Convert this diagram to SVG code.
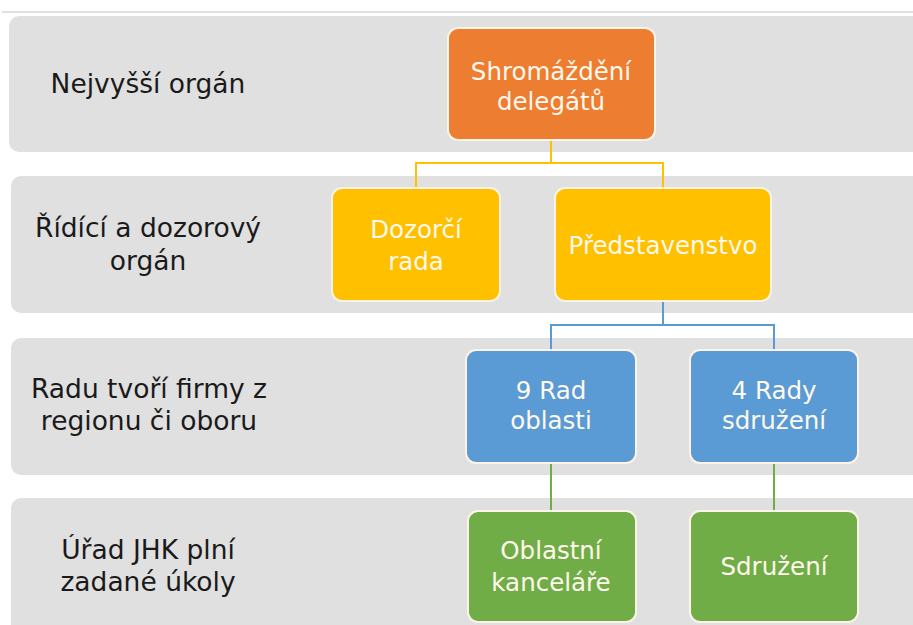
<svg xmlns="http://www.w3.org/2000/svg" width="913" height="625" viewBox="0 0 913 625">
<style>
.band{fill:#e0e0e0}
.lbl{font-family:"DejaVu Sans",Verdana,sans-serif;font-size:26.5px;fill:#1a1a1a;text-anchor:middle}
.nt{font-family:"DejaVu Sans",Verdana,sans-serif;font-size:24.5px;fill:#fff8ec;text-anchor:middle}
.node{stroke:#fdf3e6;stroke-width:2}
.c{fill:none;stroke-width:2}
</style>
<rect width="913" height="625" fill="#ffffff"/>
<line x1="2" y1="12" x2="913" y2="12" stroke="#d0d4da" stroke-width="1.5"/>
<g id="bands">
<rect class="band" x="9" y="16" width="920" height="136" rx="10"/>
<rect class="band" x="11" y="176" width="918" height="137" rx="10"/>
<rect class="band" x="11" y="338" width="918" height="137" rx="10"/>
<rect class="band" x="11" y="498" width="918" height="140" rx="10"/>
</g>
<g id="labels">
<text class="lbl" x="148" y="93">Nejvyšší orgán</text>
<text class="lbl" x="148" y="237">Řídící a dozorový</text>
<text class="lbl" x="148" y="270">orgán</text>
<text class="lbl" x="149" y="398">Radu tvoří firmy z</text>
<text class="lbl" x="149" y="430">regionu či oboru</text>
<text class="lbl" x="148" y="559">Úřad JHK plní</text>
<text class="lbl" x="148" y="591">zadané úkoly</text>
</g>
<g id="connectors">
<path class="c" stroke="#ffc000" d="M551 140 V163 M416 188 V163 H663 V188"/>
<path class="c" stroke="#5b9bd5" d="M663 301 V325 M551 350 V325 H774 V350"/>
<path class="c" stroke="#70ad47" d="M551 463 V511 M774 463 V511"/>
</g>
<g id="n-shromazdeni">
<rect class="node" x="448" y="28" width="207" height="112" rx="10" fill="#ed7d31"/>
<text class="nt" x="551" y="80">Shromáždění</text>
<text class="nt" x="551" y="110">delegátů</text>
</g>
<g id="n-dozorci">
<rect class="node" x="332" y="188" width="168" height="113" rx="10" fill="#ffc000"/>
<text class="nt" x="416" y="238">Dozorčí</text>
<text class="nt" x="416" y="270">rada</text>
</g>
<g id="n-predstavenstvo">
<rect class="node" x="555" y="188" width="216" height="113" rx="10" fill="#ffc000"/>
<text class="nt" x="663" y="254">Představenstvo</text>
</g>
<g id="n-9rad">
<rect class="node" x="466" y="350" width="170" height="113" rx="10" fill="#5b9bd5" stroke="#eef4fb"/>
<text class="nt" x="551" y="399">9 Rad</text>
<text class="nt" x="551" y="429">oblasti</text>
</g>
<g id="n-4rady">
<rect class="node" x="690" y="350" width="168" height="113" rx="10" fill="#5b9bd5" stroke="#eef4fb"/>
<text class="nt" x="774" y="399">4 Rady</text>
<text class="nt" x="774" y="429">sdružení</text>
</g>
<g id="n-oblastni">
<rect class="node" x="468" y="511" width="168" height="111" rx="10" fill="#70ad47" stroke="#eef6e8"/>
<text class="nt" x="551" y="559">Oblastní</text>
<text class="nt" x="551" y="591">kanceláře</text>
</g>
<g id="n-sdruzeni">
<rect class="node" x="690" y="511" width="168" height="111" rx="10" fill="#70ad47" stroke="#eef6e8"/>
<text class="nt" x="774" y="575">Sdružení</text>
</g>
</svg>
